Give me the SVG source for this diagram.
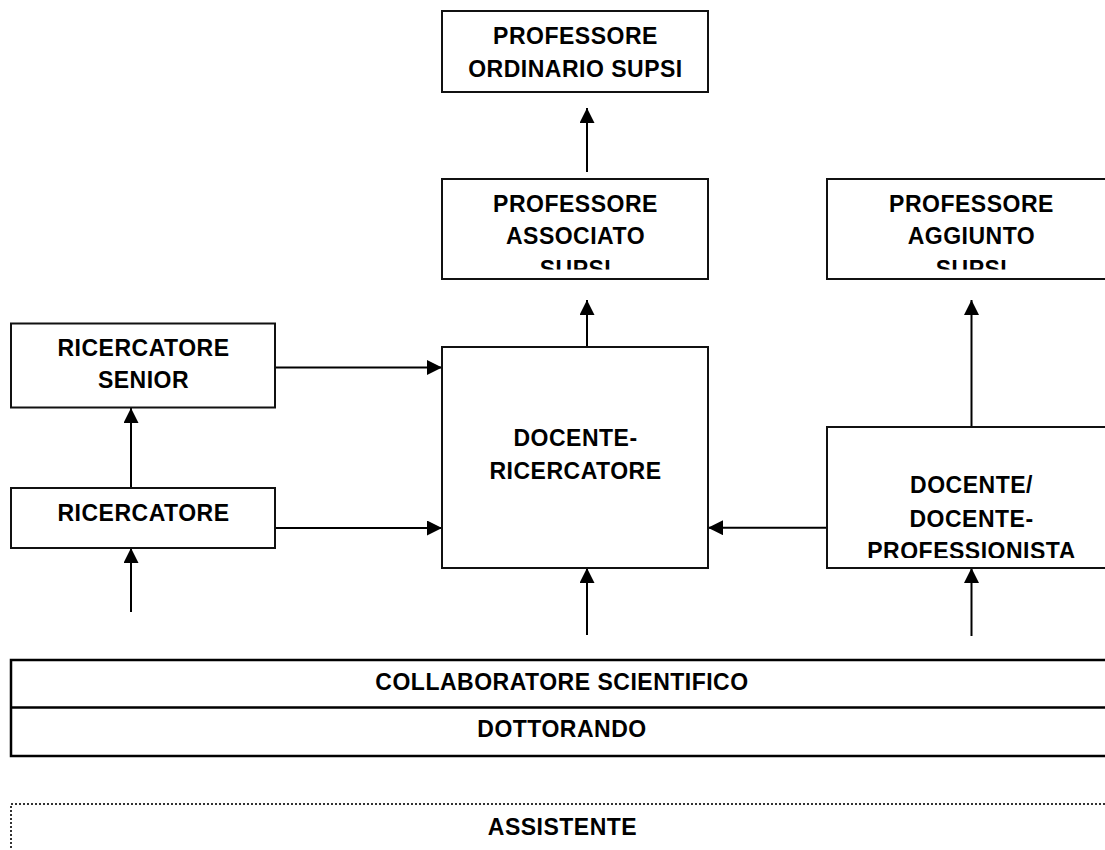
<svg xmlns="http://www.w3.org/2000/svg" width="1105" height="850" viewBox="0 0 1105 850">
<style>
.box{fill:#fff;stroke:#111;stroke-width:2}
.band{fill:#fff;stroke:#000;stroke-width:2.5}
.dot{fill:#fff;stroke:#333;stroke-width:2;stroke-dasharray:2 2}
.lbl{font-family:"Liberation Sans",Arial,sans-serif;font-weight:bold;font-size:23px;letter-spacing:0.5px;fill:#000;text-anchor:middle}
.con{stroke:#000;stroke-width:2;fill:none;marker-end:url(#ah)}
</style>
<defs>
<marker id="ah" markerUnits="userSpaceOnUse" markerWidth="16" markerHeight="16" refX="15" refY="7.5" orient="auto">
<path d="M0,0 L15,7.5 L0,15 z" fill="#000"/>
</marker>
<clipPath id="cAssoc"><rect x="442" y="179" width="266" height="90.5"/></clipPath>
<clipPath id="cAgg"><rect x="827" y="179" width="290" height="90.5"/></clipPath>
<clipPath id="cDp"><rect x="827" y="427" width="290" height="131"/></clipPath>
</defs>
<rect width="1105" height="850" fill="#fff"/>

<g id="connectors">
<line class="con" x1="587" y1="172" x2="587" y2="108"/>
<line class="con" x1="587" y1="347" x2="587" y2="300"/>
<line class="con" x1="971.5" y1="427" x2="971.5" y2="300"/>
<line class="con" x1="275" y1="367.5" x2="442" y2="367.5"/>
<line class="con" x1="275" y1="528" x2="442" y2="528"/>
<line class="con" x1="827" y1="527.7" x2="708" y2="527.7"/>
<line class="con" x1="131" y1="488" x2="131" y2="408"/>
<line class="con" x1="131" y1="612" x2="131" y2="548"/>
<line class="con" x1="587" y1="635" x2="587" y2="568"/>
<line class="con" x1="971.5" y1="636" x2="971.5" y2="568"/>
</g>

<g id="ordinario">
<rect class="box" x="442" y="11" width="266" height="81"/>
<text class="lbl" x="575.5" y="44">PROFESSORE</text>
<text class="lbl" x="575.5" y="76.5">ORDINARIO SUPSI</text>
</g>

<g id="associato">
<rect class="box" x="442" y="179" width="266" height="100"/>
<g clip-path="url(#cAssoc)">
<text class="lbl" x="575.5" y="211.5">PROFESSORE</text>
<text class="lbl" x="575.5" y="244">ASSOCIATO</text>
<text class="lbl" x="575.5" y="276.5">SUPSI</text>
</g>
</g>

<g id="aggiunto">
<rect class="box" x="827" y="179" width="290" height="100"/>
<g clip-path="url(#cAgg)">
<text class="lbl" x="971.5" y="211.5">PROFESSORE</text>
<text class="lbl" x="971.5" y="244">AGGIUNTO</text>
<text class="lbl" x="971.5" y="276.5">SUPSI</text>
</g>
</g>

<g id="ricercatore-senior">
<rect class="box" x="11" y="323.5" width="264" height="84"/>
<text class="lbl" x="143.5" y="355.5">RICERCATORE</text>
<text class="lbl" x="143.5" y="388">SENIOR</text>
</g>

<g id="ricercatore">
<rect class="box" x="11" y="488" width="264" height="60"/>
<text class="lbl" x="143.5" y="520.5">RICERCATORE</text>
</g>

<g id="docente-ricercatore">
<rect class="box" x="442" y="347" width="266" height="221"/>
<text class="lbl" x="575.5" y="446">DOCENTE-</text>
<text class="lbl" x="575.5" y="479">RICERCATORE</text>
</g>

<g id="docente-professionista">
<rect class="box" x="827" y="427" width="290" height="141"/>
<g clip-path="url(#cDp)">
<text class="lbl" x="971.5" y="493">DOCENTE/</text>
<text class="lbl" x="971.5" y="526.5">DOCENTE-</text>
<text class="lbl" x="971.5" y="559">PROFESSIONISTA</text>
</g>
</g>

<g id="collaboratore-dottorando">
<rect class="band" x="11" y="660" width="1110" height="96"/>
<line x1="11" y1="707.5" x2="1121" y2="707.5" stroke="#000" stroke-width="2.5"/>
<text class="lbl" x="562" y="690">COLLABORATORE SCIENTIFICO</text>
<text class="lbl" x="562" y="737">DOTTORANDO</text>
</g>

<g id="assistente">
<rect class="dot" x="11" y="804" width="1110" height="100"/>
<text class="lbl" x="562.5" y="835">ASSISTENTE</text>
</g>
</svg>
